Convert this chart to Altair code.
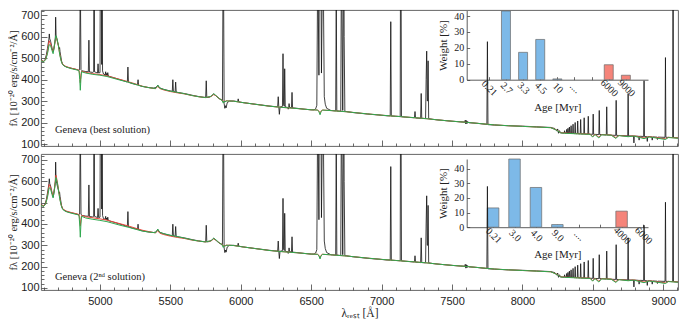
import json
import altair as alt
import pandas as pd

# ---------------- observed spectrum (lambda [A], flux) ----------------
OBS_BLUE = [
    (4582, 492), (4592, 488), (4600, 484), (4610, 492), (4620, 515), (4628, 545),
    (4634, 570), (4638, 588), (4641, 612), (4644, 590), (4650, 578), (4656, 560),
    (4662, 542), (4669, 528), (4674, 545), (4680, 575), (4684, 598), (4686, 690),
    (4689, 606), (4694, 590), (4700, 572), (4708, 552), (4712, 542), (4714, 548),
    (4717, 530), (4722, 510), (4728, 486), (4736, 470), (4750, 462), (4775, 456),
    (4800, 452), (4825, 448), (4850, 443), (4856, 446), (4859, 700), (4861, 1600),
    (4863, 700), (4866, 446), (4875, 440), (4900, 437), (4918, 436), (4922, 583),
    (4926, 435), (4950, 433), (4956, 436), (4959, 1800), (4962, 436), (4983, 430),
    (4987, 473), (4991, 430), (5001, 432), (5004, 1200), (5007, 5000), (5010, 1200),
    (5013, 470), (5016, 800), (5019, 440), (5026, 425), (5038, 422), (5041, 436),
    (5044, 420), (5048, 428), (5052, 418), (5056, 432), (5060, 416), (5080, 412),
    (5100, 408), (5130, 402), (5160, 396), (5195, 388), (5199, 458), (5203, 387),
    (5230, 381), (5267, 375), (5271, 399), (5275, 373), (5300, 368), (5340, 363),
    (5380, 360), (5400, 363), (5411, 374), (5422, 362), (5450, 355), (5490, 348),
    (5514, 345), (5518, 399), (5522, 344), (5534, 342), (5538, 388), (5542, 341),
    (5580, 337),
]
OBS_MID = [
    (5620, 332), (5660, 326), (5700, 321), (5740, 317), (5751, 317), (5755, 394),
    (5759, 316), (5780, 318), (5795, 325), (5808, 333), (5820, 326), (5840, 314),
    (5860, 306), (5870, 303), (5873, 700), (5876, 1100), (5879, 700), (5882, 288),
    (5887, 266), (5892, 278), (5896, 268), (5904, 292), (5920, 300), (5950, 300),
    (5978, 297), (5982, 310), (5986, 296), (6020, 292), (6080, 287), (6140, 282),
    (6200, 277), (6240, 274), (6262, 273), (6266, 320), (6270, 273), (6274, 238),
    (6279, 272), (6296, 275), (6300, 520), (6304, 282), (6309, 276), (6312, 450),
    (6316, 272), (6334, 270), (6337, 262), (6340, 270), (6343, 288), (6347, 270),
    (6360, 269), (6364, 340), (6368, 268), (6400, 266), (6450, 262), (6500, 259),
    (6520, 259), (6532, 264), (6540, 280), (6545, 800), (6548, 1500), (6551, 700),
    (6555, 420), (6559, 1200), (6563, 6000), (6567, 1200), (6573, 430), (6580, 900),
    (6584, 3000), (6588, 700), (6593, 320), (6600, 285), (6610, 266), (6640, 256),
    (6674, 254), (6678, 800), (6682, 254), (6710, 252), (6713, 700), (6716, 1700),
    (6719, 700), (6724, 256), (6728, 700), (6731, 1400), (6734, 600), (6739, 252),
    (6800, 246), (6860, 242), (6920, 238), (6980, 235),
]
OBS_RED = [
    (7040, 231), (7061, 231), (7065, 669), (7069, 230), (7100, 229), (7132, 228),
    (7134, 900), (7136, 1800), (7138, 900), (7141, 227), (7170, 225), (7233, 222),
    (7237, 251), (7241, 221), (7260, 220), (7277, 219), (7281, 335), (7285, 219),
    (7312, 218), (7316, 400), (7320, 532), (7324, 300), (7327, 300), (7330, 487),
    (7334, 218), (7360, 215), (7400, 212), (7450, 209), (7500, 206), (7560, 203),
    (7590, 202), (7594, 211), (7598, 193), (7602, 209), (7606, 195), (7610, 205),
    (7620, 199), (7680, 196), (7720, 193), (7747, 191), (7751, 576), (7755, 190),
    (7800, 188), (7900, 185), (8000, 183), (8100, 180), (8200, 177), (8230, 172),
    (8244, 160), (8250, 170), (8256, 150), (8263, 162), (8270, 152),
]
OBS_PASCHEN = [
    (8283, 151), (8296, 151), (8299, 162), (8302, 151), (8311, 151), (8314, 168),
    (8317, 150), (8320, 150), (8323, 173), (8326, 150), (8330, 150), (8333, 179),
    (8336, 150), (8342, 149), (8345, 185), (8348, 149), (8356, 149), (8359, 192),
    (8362, 149), (8371, 148), (8374, 200), (8377, 148), (8389, 148), (8392, 207),
    (8395, 148), (8410, 147), (8413, 214), (8416, 147), (8435, 147), (8438, 222),
    (8441, 146), (8464, 146), (8467, 229), (8470, 146), (8499, 145), (8502, 239),
    (8505, 145), (8542, 144), (8545, 256), (8548, 144), (8595, 142), (8598, 273),
    (8601, 142), (8662, 140), (8665, 303), (8668, 140), (8747, 138), (8750, 335),
    (8753, 138), (8788, 137), (8791, 105), (8794, 137), (8825, 136), (8828, 118),
    (8831, 136), (8860, 135), (8863, 394), (8866, 135), (8883, 134), (8886, 112),
    (8889, 134), (8918, 133), (8921, 118), (8924, 133), (8955, 132), (8958, 121),
    (8961, 132), (9012, 131), (9015, 502), (9018, 131), (9066, 130), (9069, 1400),
    (9072, 130), (9104, 128),
]

# ---------------- model fits ----------------
BEST_GREEN = [
    (4582, 488), (4600, 482), (4615, 492), (4628, 520), (4640, 562), (4650, 558),
    (4660, 535), (4668, 520), (4678, 560), (4688, 604), (4696, 590), (4705, 560),
    (4715, 515), (4725, 486), (4735, 469), (4760, 458), (4800, 450), (4840, 444),
    (4852, 440), (4857, 400), (4861, 350), (4865, 400), (4870, 436), (4900, 430),
    (4950, 424), (5000, 420), (5050, 414), (5100, 405), (5150, 396), (5200, 388),
    (5250, 378), (5300, 368), (5350, 362), (5395, 358), (5411, 374), (5425, 360),
    (5450, 354), (5500, 346), (5550, 340), (5600, 334), (5650, 326), (5700, 320),
    (5750, 316), (5790, 322), (5808, 334), (5825, 325), (5850, 310), (5866, 304),
    (5876, 290), (5882, 300), (5888, 295), (5895, 300), (5920, 300), (5950, 299),
    (6000, 294), (6100, 285), (6200, 276), (6300, 270), (6400, 265), (6500, 259),
    (6545, 258), (6555, 250), (6563, 236), (6570, 250), (6580, 258), (6650, 255),
    (6750, 250), (6900, 240), (7000, 234), (7100, 229), (7200, 224), (7300, 219),
    (7400, 212), (7500, 206), (7600, 201), (7700, 195), (7800, 189), (7900, 185),
    (8000, 182), (8100, 179), (8200, 176), (8240, 165), (8270, 152), (8300, 150),
    (8400, 147), (8480, 145), (8498, 132), (8515, 144), (8542, 128), (8562, 143),
    (8630, 141), (8662, 126), (8685, 139), (8750, 134), (8790, 137), (8863, 125),
    (8900, 133), (9015, 121), (9035, 130), (9104, 127),
]
BEST_RED = [
    (4582, 490), (4600, 484), (4615, 494), (4628, 525), (4640, 580), (4650, 565),
    (4660, 540), (4668, 530), (4678, 560), (4688, 595), (4696, 585), (4705, 560),
    (4715, 518), (4725, 488), (4735, 471), (4760, 460), (4800, 452), (4840, 446),
    (4852, 443), (4857, 420), (4861, 385), (4865, 420), (4870, 439), (4900, 433),
    (4950, 427), (5000, 423), (5050, 417), (5100, 408), (5150, 399), (5200, 390),
    (5250, 380), (5300, 369), (5350, 362), (5395, 357), (5411, 368), (5425, 358),
    (5450, 352), (5500, 344), (5550, 338), (5600, 333), (5650, 326), (5700, 320),
    (5750, 316), (5790, 321), (5808, 330), (5825, 324), (5850, 310), (5866, 305),
    (5876, 296), (5882, 301), (5888, 297), (5895, 301), (5920, 300), (5950, 299),
    (6000, 294), (6100, 285), (6200, 276), (6300, 270), (6400, 265), (6500, 259),
    (6545, 258), (6555, 253), (6563, 245), (6570, 253), (6580, 258), (6650, 255),
    (6750, 250), (6900, 240), (7000, 234), (7100, 229), (7200, 224), (7300, 219),
    (7400, 212), (7500, 206), (7600, 201), (7700, 195), (7800, 189), (7900, 185),
    (8000, 182), (8100, 179), (8200, 176), (8240, 166), (8270, 153), (8300, 151),
    (8400, 148), (8480, 146), (8498, 135), (8515, 145), (8542, 132), (8562, 144),
    (8630, 142), (8662, 130), (8685, 140), (8750, 135), (8790, 138), (8863, 128),
    (8900, 134), (9015, 124), (9035, 131), (9104, 128),
]
SECOND_GREEN = [
    (4582, 488), (4600, 482), (4615, 494), (4628, 525), (4640, 570), (4650, 565),
    (4660, 538), (4668, 522), (4678, 565), (4688, 618), (4696, 600), (4705, 565),
    (4715, 518), (4725, 487), (4735, 469), (4760, 458), (4800, 450), (4840, 444),
    (4852, 440), (4857, 395), (4861, 338), (4865, 395), (4870, 436), (4900, 428),
    (4950, 422), (5000, 417), (5050, 411), (5100, 402), (5150, 393), (5200, 385),
    (5250, 376), (5300, 367), (5350, 362), (5395, 359), (5411, 376), (5425, 361),
    (5450, 355), (5500, 347), (5550, 341), (5600, 334), (5650, 326), (5700, 320),
    (5750, 316), (5790, 322), (5808, 333), (5825, 325), (5850, 310), (5866, 304),
    (5876, 290), (5882, 300), (5888, 295), (5895, 300), (5920, 300), (5950, 299),
    (6000, 294), (6100, 285), (6200, 276), (6300, 270), (6400, 265), (6500, 259),
    (6545, 258), (6555, 250), (6563, 236), (6570, 250), (6580, 258), (6650, 255),
    (6750, 250), (6900, 240), (7000, 234), (7100, 229), (7200, 224), (7300, 219),
    (7400, 212), (7500, 206), (7600, 201), (7700, 195), (7800, 189), (7900, 185),
    (8000, 182), (8100, 179), (8200, 176), (8240, 165), (8270, 152), (8300, 150),
    (8400, 147), (8480, 145), (8498, 132), (8515, 144), (8542, 128), (8562, 143),
    (8630, 141), (8662, 126), (8685, 139), (8750, 134), (8790, 137), (8863, 125),
    (8900, 133), (9015, 121), (9035, 130), (9104, 127),
]
SECOND_RED = [
    (4582, 490), (4600, 484), (4615, 496), (4628, 530), (4640, 585), (4650, 572),
    (4660, 545), (4668, 532), (4678, 570), (4688, 628), (4696, 605), (4705, 568),
    (4715, 521), (4725, 490), (4735, 472), (4760, 461), (4800, 453), (4840, 447),
    (4852, 444), (4857, 420), (4861, 390), (4865, 420), (4870, 440), (4900, 434),
    (4950, 429), (5000, 424), (5050, 418), (5100, 409), (5150, 400), (5200, 391),
    (5250, 381), (5300, 371), (5350, 364), (5395, 358), (5411, 369), (5425, 357),
    (5450, 351), (5500, 343), (5550, 337), (5600, 332), (5650, 325), (5700, 320),
    (5750, 316), (5790, 321), (5808, 330), (5825, 324), (5850, 310), (5866, 305),
    (5876, 296), (5882, 301), (5888, 297), (5895, 301), (5920, 300), (5950, 299),
    (6000, 294), (6100, 285), (6200, 276), (6300, 270), (6400, 265), (6500, 259),
    (6545, 258), (6555, 253), (6563, 245), (6570, 253), (6580, 258), (6650, 255),
    (6750, 250), (6900, 240), (7000, 234), (7100, 229), (7200, 224), (7300, 219),
    (7400, 212), (7500, 206), (7600, 201), (7700, 195), (7800, 189), (7900, 185),
    (8000, 182), (8100, 179), (8200, 176), (8240, 166), (8270, 153), (8300, 151),
    (8400, 148), (8480, 146), (8498, 135), (8515, 145), (8542, 132), (8562, 144),
    (8630, 142), (8662, 130), (8685, 140), (8750, 135), (8790, 138), (8863, 128),
    (8900, 134), (9015, 124), (9035, 131), (9104, 128),
]

# ---------------- inset histograms ----------------
BEST_AGES = ["0.21", "2.7", "3.3", "4.5", "10", "....", "", "6000", "9000"]
BEST_WEIGHTS = [0, 43.2, 17.2, 25.3, 0.5, 0, 0, 9.4, 2.8]
BEST_POP = ["young", "young", "young", "young", "young", "", "", "old", "old"]
SECOND_AGES = ["0.21", "3.0", "4.0", "9.0", "....", "", "4000", "6000"]
SECOND_WEIGHTS = [13.2, 46.7, 27.2, 1.8, 0, 0, 11.0, 0]
SECOND_POP = ["young", "young", "young", "young", "", "", "old", "old"]

# ---------------- text ----------------
Y_TITLE = "fλ [10⁻²⁰ erg/s/cm⁻²/Å]"
X_TITLE = "λᵣₑₛₜ [Å]"
LABEL_BEST = "Geneva (best solution)"
LABEL_SECOND = "Geneva (2ⁿᵈ solution)"

MAJOR_X = [5000, 5500, 6000, 6500, 7000, 7500, 8000, 8500, 9000]
MINOR_X = [v for v in range(4600, 9101, 100) if v % 500 != 0]
MAJOR_Y = [100, 200, 300, 400, 500, 600, 700]
MINOR_Y = [v for v in range(100, 721, 20) if v % 100 != 0]

# ---------------- layout / style ----------------
W = 637
H1, H2 = 136, 136
X_DOMAIN = [4582, 9104]
Y1_DOMAIN = [90.7, 723.3]
Y2_DOMAIN = [90.6, 728]
INSET_X = [425.7, 607.0]
SERIF = "Liberation Serif"
SANS = "Liberation Sans"
C_OBS = "#111111"
C_GREEN = "#2fa84f"
C_RED = "#e8473b"
C_BLUE_BAR = "#7db9e8"
C_RED_BAR = "#f5847a"
TICK_C = "#444444"


def df_of(*parts):
    rows = []
    for p in parts:
        rows.extend(p)
    return pd.DataFrame(rows, columns=["lam", "flux"])


def hidden_axis(orient, offset, values, size):
    return alt.Axis(orient=orient, offset=offset, values=values, tickSize=size,
                    tickColor=TICK_C, tickWidth=0.8, labels=False, domain=False,
                    grid=False, title=None)


def spectrum_layers(obs, red, green, ydom, H, bottom, label, label_pos):
    xs = alt.Scale(domain=X_DOMAIN, zero=False, nice=False)
    ys = alt.Scale(domain=ydom, zero=False, nice=False)
    x_main = alt.Axis(orient="bottom", values=MAJOR_X, format="d", labels=bottom,
                      ticks=False, domain=False, grid=False,
                      title=X_TITLE if bottom else None,
                      labelFont=SANS, labelFontSize=11, labelColor="#222",
                      labelPadding=5, labelFlush=False, labelOverlap=False,
                      titleFont=SERIF, titleFontSize=11.5, titleFontWeight="normal",
                      titleColor="#222", titlePadding=1)
    y_main = alt.Axis(orient="left", values=MAJOR_Y, format="d", ticks=False,
                      domain=False, grid=False, title=Y_TITLE,
                      labelFont=SANS, labelFontSize=11, labelColor="#222",
                      labelPadding=2, labelFlush=False, labelOverlap=False,
                      titleFont=SERIF, titleFontSize=10.5, titleFontWeight="normal",
                      titleColor="#222", titlePadding=2)
    black = alt.Chart(obs).mark_line(clip=True, color=C_OBS, strokeWidth=0.8).encode(
        x=alt.X("lam:Q", scale=xs, axis=x_main),
        y=alt.Y("flux:Q", scale=ys, axis=y_main))
    redl = alt.Chart(red).mark_line(clip=True, color=C_RED, strokeWidth=1.0).encode(
        x=alt.X("lam:Q", scale=xs, axis=hidden_axis("top", -H, MAJOR_X, 6)),
        y=alt.Y("flux:Q", scale=ys, axis=hidden_axis("right", -W, MAJOR_Y, 6)))
    greenl = alt.Chart(green).mark_line(clip=True, color=C_GREEN, strokeWidth=1.0).encode(
        x=alt.X("lam:Q", scale=xs, axis=hidden_axis("top", -H, MINOR_X, 3)),
        y=alt.Y("flux:Q", scale=ys, axis=hidden_axis("right", -W, MINOR_Y, 3)))
    ann = alt.Chart(pd.DataFrame({"lam": [label_pos[0]], "flux": [label_pos[1]],
                                  "t": [label]})).mark_text(
        align="left", baseline="middle", font=SERIF, fontSize=10.5, color="#222").encode(
        x=alt.X("lam:Q", scale=xs, axis=None),
        y=alt.Y("flux:Q", scale=ys, axis=None),
        text="t:N")
    return [black, redl, greenl, ann]


def inset_layers(ages, weights, pops, xmax, ymax, H, y0, y1, barw):
    df = pd.DataFrame({"pos": list(range(1, len(ages) + 1)), "age": ages,
                       "weight": weights, "pop": pops})
    df = df[df["weight"] > 0]
    xs = alt.Scale(domain=[0, xmax], range=INSET_X, zero=False, nice=False)
    ys = alt.Scale(domain=[0, ymax], range=[y0, y1], zero=False, nice=False)
    positions = list(range(1, len(ages) + 1))
    label_expr = json.dumps(ages) + "[datum.value - 1]"
    x_lab = alt.Axis(orient="bottom", offset=y0 - H, values=positions,
                     labelExpr=label_expr, labelAngle=45, labelAlign="center",
                     labelBaseline="middle", labelPadding=8, labelFont=SERIF,
                     labelFontSize=10, labelColor="#222", labelFlush=False,
                     labelOverlap=False, ticks=False, domain=True,
                     domainColor="#333", domainWidth=0.8, grid=False,
                     title="Age [Myr]", titleFont=SERIF, titleFontSize=11,
                     titleFontWeight="normal", titleColor="#222", titlePadding=3)
    y_lab = alt.Axis(orient="left", offset=-INSET_X[0], values=[0, 10, 20, 30, 40],
                     labelFont=SERIF, labelFontSize=10, labelColor="#222",
                     labelPadding=3, labelFlush=False, labelOverlap=False,
                     ticks=False, domain=True, domainColor="#333", domainWidth=0.8,
                     grid=False, title="Weight [%]", titleFont=SERIF,
                     titleFontSize=11, titleFontWeight="normal", titleColor="#222",
                     titlePadding=5)
    blue = alt.Chart(df[df["pop"] == "young"]).mark_bar(
        width=barw, fill=C_BLUE_BAR, stroke="#6a6a6a", strokeWidth=0.7).encode(
        x=alt.X("pos:Q", scale=xs, axis=x_lab),
        y=alt.Y("weight:Q", scale=ys, axis=y_lab))
    red = alt.Chart(df[df["pop"] == "old"]).mark_bar(
        width=barw, fill=C_RED_BAR, stroke="#6a6a6a", strokeWidth=0.7).encode(
        x=alt.X("pos:Q", scale=xs, axis=hidden_axis("top", -y0, positions, 3)),
        y=alt.Y("weight:Q", scale=ys,
                axis=hidden_axis("right", INSET_X[0] - W, [0, 10, 20, 30, 40], 3)))
    return [blue, red]


top = alt.layer(
    *inset_layers(BEST_AGES, BEST_WEIGHTS, BEST_POP, 10, 43.5, H1, 69.7, 0.5, 9),
    *spectrum_layers(df_of(OBS_BLUE, OBS_MID, OBS_RED, OBS_PASCHEN),
                     df_of(BEST_RED), df_of(BEST_GREEN), Y1_DOMAIN, H1, False,
                     LABEL_BEST, (4681, 165)),
).resolve_scale(x="independent", y="independent").properties(width=W, height=H1)

bottom = alt.layer(
    *inset_layers(SECOND_AGES, SECOND_WEIGHTS, SECOND_POP, 8, 46.7, H2, 73.2, 5.0, 11.5),
    *spectrum_layers(df_of(OBS_BLUE, OBS_MID, OBS_RED, OBS_PASCHEN),
                     df_of(SECOND_RED), df_of(SECOND_GREEN), Y2_DOMAIN, H2, True,
                     LABEL_SECOND, (4681, 150)),
).resolve_scale(x="independent", y="independent").properties(width=W, height=H2)

chart = alt.vconcat(top, bottom, spacing=3).properties(
    padding={"left": 0, "top": 0, "right": 0, "bottom": 0},
    background="white",
).configure_view(stroke="#555555", strokeWidth=0.9)

chart.save("out.html", embed_options={"renderer": "svg", "actions": False})
